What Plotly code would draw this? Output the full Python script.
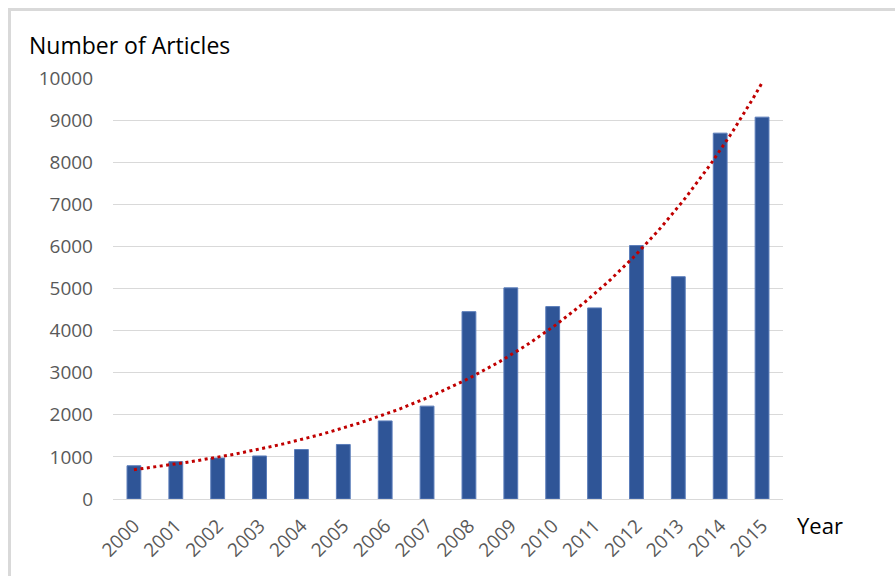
import numpy as np
import plotly.graph_objects as go

years = list(range(2000, 2016))
year_labels = [str(y) for y in years]
articles = [790, 887, 974, 1022, 1175, 1295, 1854, 2206,
            4450, 5015, 4570, 4538, 6020, 5280, 8690, 9070]
y_ticks = list(range(0, 10001, 1000))
y_tick_labels = [str(v) for v in y_ticks]

# Exponential trendline (least squares on log values, as Excel does)
xi = np.arange(len(years))
b, ln_a = np.polyfit(xi, np.log(articles), 1)
xf = np.linspace(0, len(years) - 1, 200)
trend_y = np.exp(ln_a + b * xf)
trend_x = years[0] + xf

FONT = "Open Sans, Liberation Sans, sans-serif"
W, H = 895, 576
ML, MR, MT, MB = 113, 112, 78, 77
PH = H - MT - MB
PW = W - ML - MR

fig = go.Figure()
fig.add_trace(go.Bar(
    x=years, y=articles, width=0.33,
    marker=dict(color="#2F5597", line=dict(color="#5B7DBA", width=1)),
    showlegend=False, hoverinfo="x+y",
))
fig.add_trace(go.Scatter(
    x=trend_x, y=trend_y, mode="lines",
    line=dict(color="#C00000", width=3, dash="3px,3.5px"),
    showlegend=False, hoverinfo="skip",
))

def py(px):
    return (H - MB - px) / PH

def pxx(px):
    return (px - ML) / PW

fig.update_layout(
    width=W, height=H,
    margin=dict(l=ML, r=MR, t=MT, b=MB),
    paper_bgcolor="white", plot_bgcolor="white",
    font=dict(family=FONT, color="#595959", size=19),
    xaxis=dict(
        range=[1999.5, 2015.5], tickmode="array", tickvals=years,
        ticktext=year_labels, tickangle=-45, showgrid=False,
        showline=False, zeroline=False, ticks="",
        ticklabelstandoff=11,
        tickfont=dict(size=19, color="#595959", family=FONT),
    ),
    yaxis=dict(
        range=[0, 10000], tickmode="array", tickvals=y_ticks,
        ticktext=y_tick_labels,
        showgrid=True, gridcolor="#D9D9D9", gridwidth=1,
        zeroline=True, zerolinecolor="#D9D9D9", zerolinewidth=1,
        showline=False, ticks="", ticklen=0,
        ticklabelstandoff=19,
        tickfont=dict(size=19, color="#595959", family=FONT),
    ),
    annotations=[
        dict(text="Number of Articles", xref="paper", yref="paper",
             x=pxx(27), y=py(45), xanchor="left", yanchor="middle",
             showarrow=False, font=dict(size=23, color="#000000", family=FONT)),
        dict(text="Year", xref="paper", yref="paper",
             x=pxx(795), y=py(525), xanchor="left", yanchor="middle",
             showarrow=False, font=dict(size=22, color="#000000", family=FONT)),
    ],
    shapes=[
        dict(type="line", xref="paper", yref="paper",
             x0=pxx(8), x1=pxx(W + 5), y0=py(9.5), y1=py(9.5),
             line=dict(color="#D9D9D9", width=3)),
        dict(type="line", xref="paper", yref="paper",
             x0=pxx(9.5), x1=pxx(9.5), y0=py(8), y1=py(H + 5),
             line=dict(color="#D9D9D9", width=3)),
    ],
)

fig.write_html("out.html")
